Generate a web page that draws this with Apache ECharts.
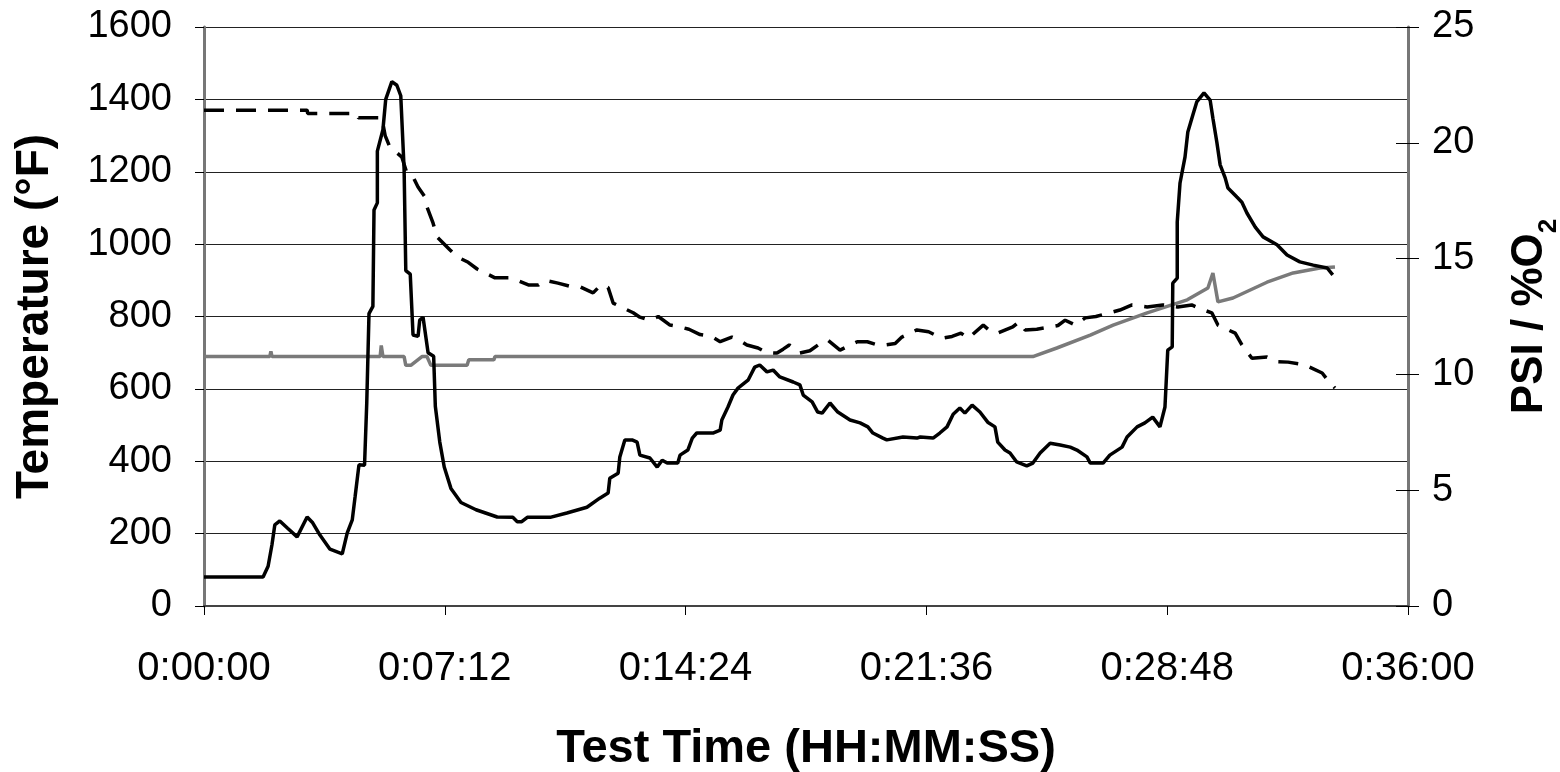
<!DOCTYPE html>
<html>
<head>
<meta charset="utf-8">
<script src="https://cdn.jsdelivr.net/npm/echarts@6/dist/echarts.min.js"></script>
<style>
html,body{margin:0;padding:0;background:#fff;}
#chart{width:1560px;height:772px;}
</style>
</head>
<body>
<div id="chart"></div>
<script>
// Time axis ticks (seconds): 0:00:00 .. 0:36:00 every 0:07:12
const timeTicks = [0, 432, 864, 1296, 1728, 2160];
const tempTicks = [0, 200, 400, 600, 800, 1000, 1200, 1400, 1600];
const rightTicks = [0, 5, 10, 15, 20, 25];

// Temperature (°F) — solid black line: [seconds, °F]
const temperature = [
  [0,80],[106,80],[115,110],[122,170],[127,224],[136,235],[150,215],[167,191],[185,246],[195,230],
  [208,196],[226,157],[248,144],[257,202],[266,238],[271,301],[278,390],[288,389],[292,562],[296,808],
  [303,828],[305,1094],[311,1114],[311,1257],[321,1316],[326,1400],[337,1449],[346,1439],[353,1410],[359,1207],
  [362,927],[370,917],[375,749],[384,745],[387,790],[393,798],[402,700],[412,690],[415,552],[423,453],
  [431,384],[443,325],[461,286],[488,266],[526,246],[554,245],[562,233],[570,233],[580,245],[621,245],
  [651,257],[687,273],[710,298],[725,312],[728,353],[743,367],[746,412],[755,459],[768,459],[777,453],
  [782,417],[800,409],[813,384],[822,403],[831,395],[850,395],[854,417],[868,431],[876,464],[884,478],
  [913,478],[926,486],[929,514],[940,550],[949,583],[958,602],[976,624],[988,660],[997,666],[1010,647],
  [1021,652],[1033,633],[1057,619],[1069,611],[1075,583],[1091,564],[1101,536],[1109,533],[1123,561],[1137,536],
  [1159,514],[1177,506],[1191,495],[1200,478],[1218,464],[1225,459],[1254,467],[1279,464],[1285,467],[1308,464],
  [1320,478],[1333,495],[1344,530],[1356,547],[1365,533],[1378,555],[1392,536],[1406,508],[1419,495],[1424,453],
  [1437,431],[1446,423],[1458,398],[1476,387],[1487,395],[1500,423],[1518,450],[1536,445],[1554,439],[1566,431],
  [1584,412],[1590,395],[1613,395],[1625,417],[1647,439],[1656,467],[1674,495],[1688,506],[1702,522],[1715,495],
  [1724,550],[1729,707],[1737,716],[1738,892],[1746,906],[1746,1061],[1751,1169],[1760,1241],[1765,1310],[1774,1357],
  [1781,1393],[1794,1418],[1805,1398],[1810,1348],[1817,1282],[1823,1219],[1832,1183],[1837,1155],[1853,1130],[1862,1116],
  [1871,1086],[1886,1047],[1900,1020],[1925,998],[1943,970],[1966,951],[1990,942],[2015,934],[2025,915]
];

// %O2 — dashed black line: [seconds, %]
const oxygen = [
  [0,21.41],[185,21.41],[186,21.27],[274,21.27],[277,21.08],[319,21.08],[325,20.31],[333,19.84],[355,19.38],[364,18.69],
  [375,18.53],[384,18.09],[396,17.67],[400,17.23],[411,16.53],[418,15.94],[441,15.38],[454,15.08],[474,14.84],[490,14.55],
  [522,14.17],[551,14.17],[583,13.86],[600,13.86],[612,14.06],[635,13.94],[660,13.78],[675,13.78],[698,13.52],[712,13.86],
  [725,13.75],[734,13.08],[750,12.89],[770,12.66],[782,12.47],[800,12.34],[815,12.5],[836,12.13],[854,12.05],[870,11.95],
  [890,11.72],[910,11.64],[926,11.41],[947,11.61],[960,11.48],[974,11.27],[994,11.14],[1010,10.94],[1028,10.92],[1039,11.09],
  [1050,11.27],[1069,10.92],[1087,11.02],[1105,11.33],[1119,11.48],[1141,11.05],[1172,11.41],[1190,11.41],[1209,11.27],[1222,11.27],
  [1240,11.33],[1252,11.61],[1279,11.92],[1300,11.84],[1324,11.56],[1342,11.64],[1358,11.78],[1371,11.56],[1398,12.13],[1410,11.88],
  [1423,11.78],[1451,12.05],[1462,12.27],[1473,11.92],[1494,11.95],[1514,12.03],[1532,12.11],[1545,12.34],[1563,12.13],[1581,12.44],
  [1600,12.5],[1625,12.66],[1643,12.78],[1665,13.0],[1692,12.91],[1720,13.0],[1747,12.91],[1772,13.0],[1790,12.81],[1808,12.66],
  [1819,12.13],[1835,11.95],[1850,11.78],[1862,11.27],[1880,10.7],[1907,10.75],[1925,10.55],[1945,10.53],[1975,10.41],[2006,10.06],
  [2020,9.63],[2029,9.41]
];

// PSI — gray line: [seconds, psi]
const pressure = [
  [0,10.77],[118,10.77],[120,11.0],[122,10.77],[316,10.77],[318,11.25],[321,10.77],[359,10.77],[362,10.39],[371,10.39],
  [391,10.77],[400,10.77],[407,10.39],[472,10.39],[475,10.63],[520,10.63],[522,10.77],[1487,10.77],[1530,11.14],[1590,11.7],
  [1631,12.13],[1692,12.66],[1764,13.22],[1801,13.73],[1810,14.38],[1819,13.13],[1846,13.3],[1907,13.98],[1954,14.38],[2002,14.59],
  [2029,14.64]
];

const pad = n => (n < 10 ? '0' : '') + n;
const fmtTime = v => {
  const h = Math.floor(v / 3600), m = Math.floor((v % 3600) / 60), s = Math.round(v % 60);
  return h + ':' + pad(m) + ':' + pad(s);
};
const plain = v => String(v);

const FONT = '"Liberation Sans", Arial, sans-serif';
const chart = echarts.init(document.getElementById('chart'), null, {renderer: 'canvas'});
chart.setOption({
  animation: false,
  backgroundColor: '#fff',
  grid: {left: 204, right: 152, top: 27, bottom: 166, containLabel: false, outerBoundsMode: 'none'},
  xAxis: {
    type: 'value', min: timeTicks[0], max: timeTicks[timeTicks.length - 1], interval: timeTicks[1] - timeTicks[0],
    name: 'Test Time (HH:MM:SS)', nameLocation: 'middle', nameGap: 120,
    nameTextStyle: {fontFamily: FONT, fontWeight: 'bold', fontSize: 47, color: '#000'},
    axisLine: {show: true, lineStyle: {color: '#444', width: 2}},
    axisTick: {show: true, length: 9, lineStyle: {color: '#000', width: 1}},
    axisLabel: {fontFamily: FONT, fontSize: 40, color: '#000', margin: 43, formatter: fmtTime},
    splitLine: {show: false}
  },
  yAxis: [
    {
      type: 'value', min: tempTicks[0], max: tempTicks[tempTicks.length - 1], interval: tempTicks[1] - tempTicks[0],
      position: 'left',
      name: 'Temperature (°F)', nameLocation: 'middle', nameGap: 146,
      nameTextStyle: {fontFamily: FONT, fontWeight: 'bold', fontSize: 46, color: '#000'},
      axisLine: {show: true, lineStyle: {color: '#777', width: 3}},
      axisTick: {show: true, length: 9, lineStyle: {color: '#000', width: 1}},
      axisLabel: {fontFamily: FONT, fontSize: 38, color: '#000', margin: 32, formatter: plain},
      splitLine: {show: true, lineStyle: {color: '#222', width: 1}}
    },
    {
      type: 'value', min: rightTicks[0], max: rightTicks[rightTicks.length - 1], interval: rightTicks[1] - rightTicks[0],
      position: 'right',
      name: '{a|PSI / %O}{b|2}', nameLocation: 'middle', nameGap: 100,
      nameTextStyle: {
        fontFamily: FONT, fontWeight: 'bold', fontSize: 44, color: '#000',
        rich: {
          a: {fontFamily: FONT, fontWeight: 'bold', fontSize: 44, color: '#000'},
          b: {fontFamily: FONT, fontWeight: 'bold', fontSize: 26, color: '#000', verticalAlign: 'bottom', padding: [0, 0, -10, 0]}
        }
      },
      axisLine: {show: true, lineStyle: {color: '#777', width: 3}},
      axisTick: {show: true, length: 11, lineStyle: {color: '#000', width: 1}},
      axisLabel: {fontFamily: FONT, fontSize: 38, color: '#000', margin: 24, formatter: plain},
      splitLine: {show: false}
    },
    {
      type: 'value', min: rightTicks[0], max: rightTicks[rightTicks.length - 1], interval: rightTicks[1] - rightTicks[0],
      position: 'right',
      axisLine: {show: false},
      axisTick: {show: true, inside: true, length: 12, lineStyle: {color: '#000', width: 1}},
      axisLabel: {show: false},
      splitLine: {show: false}
    }
  ],
  series: [
    {
      name: 'PSI', type: 'line', yAxisIndex: 1, data: pressure, showSymbol: false, symbol: 'none',
      lineStyle: {color: '#7a7a7a', width: 3.5}, z: 2
    },
    {
      name: '%O2', type: 'line', yAxisIndex: 1, data: oxygen, showSymbol: false, symbol: 'none',
      lineStyle: {color: '#000', width: 3.5, type: [20, 12]}, z: 3
    },
    {
      name: 'Temperature', type: 'line', yAxisIndex: 0, data: temperature, showSymbol: false, symbol: 'none',
      lineStyle: {color: '#000', width: 3.5}, z: 4
    }
  ]
});
</script>
</body>
</html>
